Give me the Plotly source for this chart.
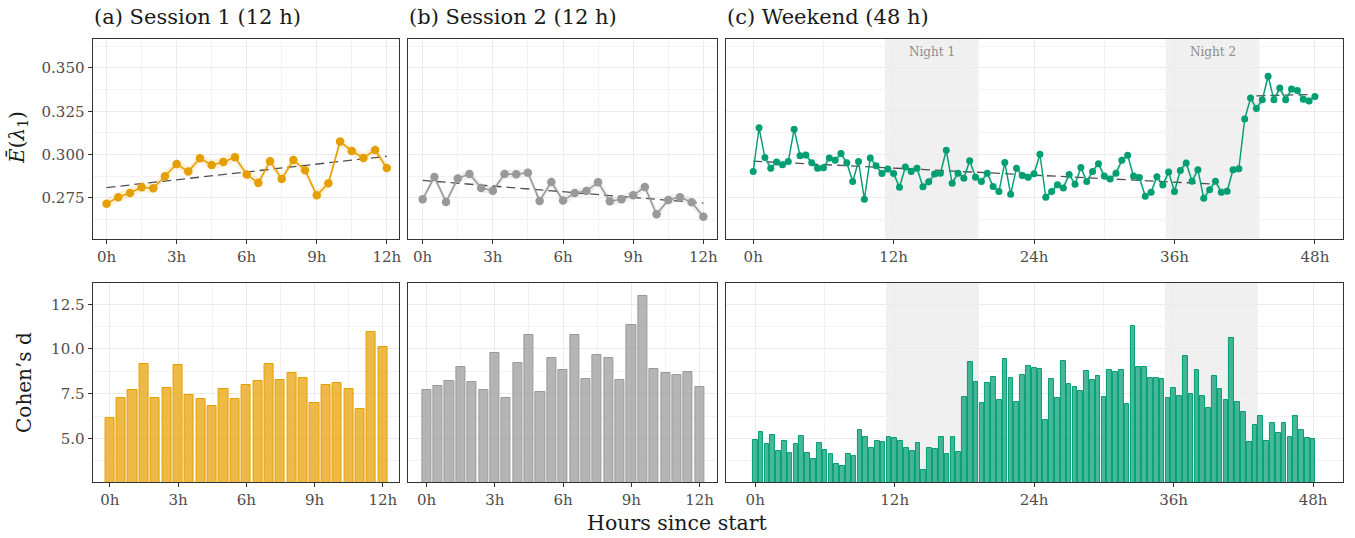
import numpy as np
import plotly.graph_objects as go

W, H = 1355, 538

# ---------------- data ----------------
session_hours = [0, 0.5, 1, 1.5, 2, 2.5, 3, 3.5, 4, 4.5, 5, 5.5, 6, 6.5, 7, 7.5, 8, 8.5,
                 9, 9.5, 10, 10.5, 11, 11.5, 12]
weekend_hours = [h / 2 for h in range(97)]

s1_energy = [0.2717, 0.2754, 0.2779, 0.2812, 0.2806, 0.2875, 0.2946, 0.2902, 0.2979,
             0.2940, 0.2958, 0.2985, 0.2885, 0.2837, 0.2962, 0.2860, 0.2969, 0.2910,
             0.2765, 0.2835, 0.3075, 0.3021, 0.2981, 0.3027, 0.2923]
s2_energy = [0.2742, 0.2871, 0.2727, 0.2862, 0.2888, 0.2808, 0.2792, 0.2888, 0.2887,
             0.2896, 0.2733, 0.2842, 0.2735, 0.2779, 0.2790, 0.2840, 0.2731, 0.2742,
             0.2765, 0.2813, 0.2656, 0.2738, 0.2754, 0.2725, 0.2642]
wk_energy = [0.2903, 0.3155, 0.2983, 0.2922, 0.2957, 0.2942, 0.2961, 0.3147, 0.2994,
             0.2998, 0.2953, 0.2922, 0.2924, 0.2981, 0.2967, 0.3006, 0.2953, 0.2845,
             0.2961, 0.2742, 0.2981, 0.2936, 0.2891, 0.2917, 0.2891, 0.2812, 0.2928,
             0.2903, 0.2922, 0.2814, 0.2843, 0.2888, 0.2893, 0.3025, 0.2835, 0.2893,
             0.2864, 0.2965, 0.2870, 0.2845, 0.2893, 0.2816, 0.2787, 0.2955, 0.2771,
             0.2922, 0.2880, 0.2870, 0.2890, 0.3002, 0.2754, 0.2787, 0.2826, 0.2808,
             0.2886, 0.2829, 0.2926, 0.2845, 0.2903, 0.2948, 0.2876, 0.2859, 0.2893,
             0.2967, 0.2996, 0.2876, 0.2868, 0.2760, 0.2783, 0.2872, 0.2824, 0.2899,
             0.2787, 0.2909, 0.2952, 0.2847, 0.2913, 0.2748, 0.2797, 0.2847, 0.2783,
             0.2789, 0.2913, 0.2919, 0.3205, 0.3326, 0.3266, 0.3316, 0.3452, 0.3316,
             0.3384, 0.3316, 0.3378, 0.3370, 0.3320, 0.3310, 0.3335]

s1_ci = 0.0028
s2_ci = 0.0026
wk_ci = 0.0022

s1_d = [6.12, 7.26, 7.69, 9.18, 7.28, 7.84, 9.09, 7.44, 7.18, 6.81, 7.78, 7.22, 7.97,
        8.23, 9.18, 8.28, 8.64, 8.38, 6.96, 7.99, 8.08, 7.78, 6.62, 10.95, 10.09]
s2_d = [7.71, 7.95, 8.19, 9.01, 8.13, 7.69, 9.79, 7.24, 9.20, 10.78, 7.59, 9.50, 8.82,
        10.78, 8.34, 9.66, 9.50, 8.25, 11.36, 12.97, 8.90, 8.66, 8.56, 8.69, 7.85]
wk_d = [4.91, 5.34, 4.68, 5.17, 4.27, 4.87, 4.18, 4.66, 5.15, 4.18, 3.82, 4.72, 4.35,
        4.12, 3.54, 3.43, 4.10, 4.03, 5.49, 5.06, 4.44, 4.83, 4.78, 5.09, 5.04, 4.87,
        4.46, 4.31, 4.76, 3.25, 4.44, 4.42, 5.09, 4.12, 5.09, 4.25, 7.29, 9.29, 8.13,
        7.00, 8.08, 8.41, 7.13, 9.44, 8.36, 7.03, 8.56, 9.03, 8.96, 8.88, 6.03, 8.30,
        7.28, 9.33, 8.02, 7.85, 7.67, 8.75, 8.27, 8.49, 7.33, 8.84, 8.71, 8.81, 6.94,
        11.31, 9.01, 8.97, 8.40, 8.38, 8.34, 7.28, 7.80, 7.39, 9.63, 7.50, 8.82, 7.35,
        6.70, 8.49, 7.74, 7.16, 10.62, 7.01, 6.46, 4.78, 5.73, 6.27, 4.83, 5.84, 5.28,
        5.84, 5.06, 6.25, 5.45, 5.00, 4.96]

nights = [("Night 1", 11.25, 19.25), ("Night 2", 35.25, 43.25)]
wk_trend_windows = [(0, 39), (43, 47.5)]

panel_titles = ["(a) Session 1 (12 h)", "(b) Session 2 (12 h)", "(c) Weekend (48 h)"]
session_ticks = [0, 3, 6, 9, 12]
weekend_ticks = [0, 12, 24, 36, 48]
energy_ticks = [0.275, 0.300, 0.325, 0.350]
d_ticks = [5.0, 7.5, 10.0, 12.5]

# ---------------- style ----------------
FONT = "DejaVu Serif"
ORANGE, GREY, GREEN = "#E69F00", "#999999", "#009E73"


def rgba(hexc, a):
    hexc = hexc.lstrip("#")
    r, g, b = int(hexc[0:2], 16), int(hexc[2:4], 16), int(hexc[4:6], 16)
    return f"rgba({r},{g},{b},{a})"


def px_x(x):
    return x / W


def px_y(y):
    return 1 - y / H


cols = [(92.7, 400.0), (409.0, 718.0), (727.0, 1345.0)]
top_row = (38.5, 238.5)
bot_row = (283.0, 482.0)

fig = go.Figure()

axis_common = dict(
    showline=True, linecolor="#333333", linewidth=1.1, mirror=True,
    showgrid=True, gridcolor="#EBEBEB", gridwidth=1.1, zeroline=False,
    tickfont=dict(family=FONT, size=15, color="#4D4D4D"),
    ticks="outside", ticklen=4, tickcolor="#333333", tickwidth=1,
    fixedrange=True,
)

top_yrange = [0.2516, 0.3670]
bot_yrange = [2.56, 13.69]
x_ranges_top = [[-0.6, 12.54], [-0.61, 12.58], [-2.33, 50.4]]
x_ranges_bot = [[-0.76, 12.73], [-0.80, 12.76], [-2.52, 50.58]]

series = [
    (session_hours, s1_energy, s1_ci, s1_d, ORANGE, 8.5, 1.6, None),
    (session_hours, s2_energy, s2_ci, s2_d, GREY, 8.5, 1.6, None),
    (weekend_hours, wk_energy, wk_ci, wk_d, GREEN, 7, 1.4, wk_trend_windows),
]

layout_axes = {}
for c in range(3):
    it = c + 1
    ib = c + 4
    xa_t = "x" if it == 1 else f"x{it}"
    ya_t = "y" if it == 1 else f"y{it}"
    xa_b, ya_b = f"x{ib}", f"y{ib}"
    dom_x = [px_x(cols[c][0]), px_x(cols[c][1])]
    ticks = weekend_ticks if c == 2 else session_ticks
    minor_dx = 6 if c == 2 else 1.5
    xt = dict(axis_common, domain=dom_x, range=x_ranges_top[c], anchor=ya_t,
              tickvals=ticks, ticktext=[f"{t}h" for t in ticks],
              minor=dict(tickvals=[t + minor_dx for t in ticks[:-1]] + [ticks[-1] + minor_dx],
                         showgrid=True, gridcolor="#F2F2F2", gridwidth=0.8, ticklen=0))
    xb = dict(xt, range=x_ranges_bot[c], anchor=ya_b)
    yt = dict(axis_common, domain=[px_y(top_row[1]), px_y(top_row[0])], range=top_yrange,
              anchor=xa_t, tickvals=energy_ticks, ticktext=[f"{v:.3f}" for v in energy_ticks],
              minor=dict(tickvals=[0.2625, 0.2875, 0.3125, 0.3375, 0.3625],
                         showgrid=True, gridcolor="#F2F2F2", gridwidth=0.8, ticklen=0))
    yb = dict(axis_common, domain=[px_y(bot_row[1]), px_y(bot_row[0])], range=bot_yrange,
              anchor=xa_b, tickvals=d_ticks, ticktext=[f"{v:.1f}" for v in d_ticks],
              minor=dict(tickvals=[3.75, 6.25, 8.75, 11.25],
                         showgrid=True, gridcolor="#F2F2F2", gridwidth=0.8, ticklen=0))
    if c > 0:
        yt.update(showticklabels=False, ticks="")
        yb.update(showticklabels=False, ticks="")
    key_xt = "xaxis" if it == 1 else f"xaxis{it}"
    key_yt = "yaxis" if it == 1 else f"yaxis{it}"
    layout_axes[key_xt] = xt
    layout_axes[key_yt] = yt
    layout_axes[f"xaxis{ib}"] = xb
    layout_axes[f"yaxis{ib}"] = yb

    hrs, en, ci, dd, col, msize, lw, windows = series[c]
    en = np.array(en)
    hrs_a = np.array(hrs)
    # confidence ribbon
    fig.add_trace(go.Scatter(x=hrs, y=list(en + ci), mode="lines", line=dict(width=0),
                             xaxis=xa_t, yaxis=ya_t, showlegend=False, hoverinfo="skip"))
    fig.add_trace(go.Scatter(x=hrs, y=list(en - ci), mode="lines", line=dict(width=0),
                             fill="tonexty", fillcolor=rgba(col, 0.15),
                             xaxis=xa_t, yaxis=ya_t, showlegend=False, hoverinfo="skip"))
    # linear trend line(s)
    wins = windows if windows else [(hrs[0], hrs[-1])]
    for (a, b) in wins:
        m = (hrs_a >= a) & (hrs_a <= b)
        k, q = np.polyfit(hrs_a[m], en[m], 1)
        fig.add_trace(go.Scatter(x=[a, b], y=[k * a + q, k * b + q], mode="lines",
                                 line=dict(color="rgba(50,50,50,0.85)", width=1.3, dash="9px,5px"),
                                 xaxis=xa_t, yaxis=ya_t, showlegend=False, hoverinfo="skip"))
    # line + points
    fig.add_trace(go.Scatter(x=hrs, y=list(en), mode="lines+markers",
                             line=dict(color=col, width=lw),
                             marker=dict(color=col, size=msize),
                             xaxis=xa_t, yaxis=ya_t, showlegend=False))
    # effect-size bars
    fig.add_trace(go.Bar(x=hrs, y=dd, width=0.4,
                         marker=dict(color=rgba(col, 0.72), line=dict(color=col, width=1)),
                         xaxis=xa_b, yaxis=ya_b, showlegend=False))

shapes = []
annotations = []
for (lab, a, b) in nights:
    for (xr, yr) in [("x3", "y3 domain"), ("x6", "y6 domain")]:
        shapes.append(dict(type="rect", xref=xr, yref=yr, x0=a, x1=b, y0=0, y1=1,
                           fillcolor="#F0F0F0", line=dict(width=0), layer="below"))
    annotations.append(dict(text=lab, x=(a + b) / 2, xref="x3", y=px_y(52), yref="paper",
                            showarrow=False, font=dict(family=FONT, size=12, color="#8C8C8C"),
                            xanchor="center", yanchor="middle"))

for c, t in enumerate(panel_titles):
    annotations.append(dict(text=t, x=px_x(cols[c][0] - 1), y=px_y(17), xref="paper", yref="paper",
                            showarrow=False, xanchor="left", yanchor="middle",
                            font=dict(family=FONT, size=21, color="#1A1A1A")))

annotations.append(dict(text="<i>Ē</i>(<i>λ</i><sub>1</sub>)", x=px_x(18), y=px_y(137),
                        xref="paper", yref="paper", showarrow=False, textangle=-90,
                        xanchor="center", yanchor="middle",
                        font=dict(family=FONT, size=20, color="#1A1A1A")))
annotations.append(dict(text="Cohen’s d", x=px_x(24), y=px_y(382),
                        xref="paper", yref="paper", showarrow=False, textangle=-90,
                        xanchor="center", yanchor="middle",
                        font=dict(family=FONT, size=20, color="#1A1A1A")))
annotations.append(dict(text="Hours since start", x=px_x(678), y=px_y(523),
                        xref="paper", yref="paper", showarrow=False,
                        xanchor="center", yanchor="middle",
                        font=dict(family=FONT, size=20.5, color="#1A1A1A")))

fig.update_layout(
    width=W, height=H, margin=dict(l=0, r=0, t=0, b=0),
    paper_bgcolor="white", plot_bgcolor="white",
    shapes=shapes, annotations=annotations, bargap=0,
    font=dict(family=FONT),
    **layout_axes,
)

# remove the browser's default 8px page margin so the figure fills the window
fig.write_html("out.html", config={"displayModeBar": False},
               post_script="document.body.style.margin='0';document.body.style.overflow='hidden';")
